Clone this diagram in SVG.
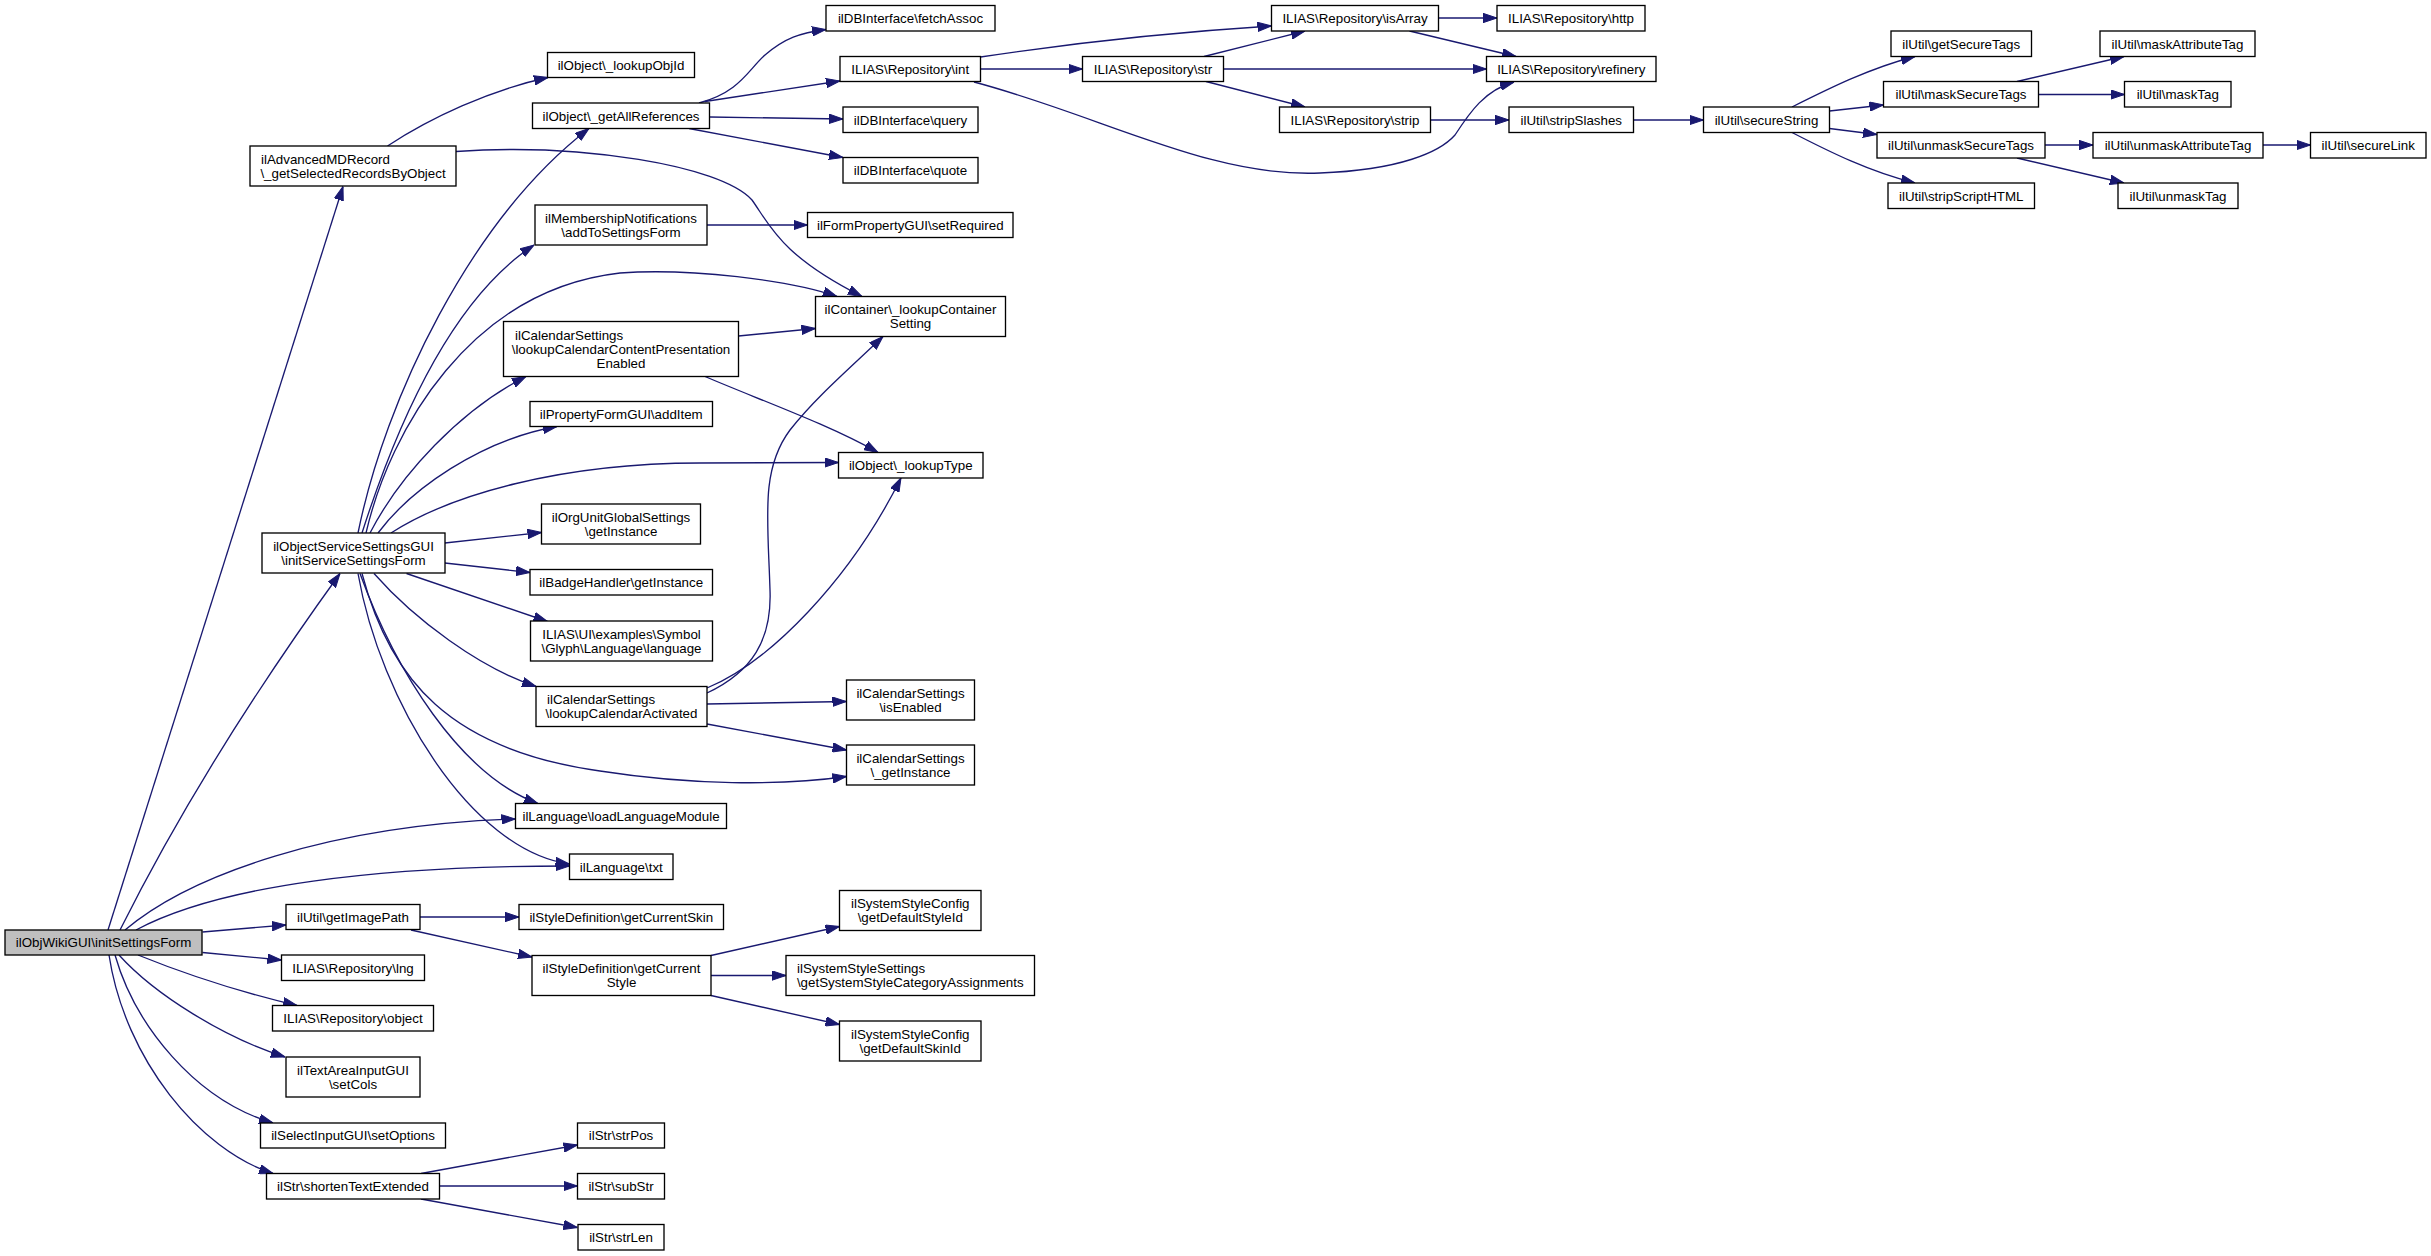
<svg xmlns="http://www.w3.org/2000/svg" width="2431" height="1256" viewBox="0 0 2431 1256">
<style>
.node rect{fill:#ffffff;stroke:#000000;stroke-width:1.33}
.node.root rect{fill:#bfbfbf}
.node text{font-family:"Liberation Sans",Arial,Helvetica,sans-serif;font-size:13.33px;fill:#000000;text-anchor:middle}
.node text.l{text-anchor:start}
.edges path{fill:none;stroke:#191970;stroke-width:1.33;marker-end:url(#arr)}
</style>
<defs>
<marker id="arr" viewBox="0 0 14 10" refX="14" refY="5" markerWidth="14" markerHeight="10" markerUnits="userSpaceOnUse" orient="auto">
<path d="M0,0.3 L14,5 L0,9.7 z" fill="#191970" stroke="#191970" stroke-width="1"/>
</marker>
</defs>
<rect x="0" y="0" width="2431" height="1256" fill="#ffffff"/>
<g class="edges" id="connectors">
<path d="M108,930 L343,186.5"/>
<path d="M120,930 Q205,760 340,573.5"/>
<path d="M125,930 C190,875 330,825 515.5,819"/>
<path d="M136,930 C220,885 380,866 569.5,866"/>
<path d="M202.5,932 L286,925"/>
<path d="M202.5,952.5 L281.5,960"/>
<path d="M138,955 C180,972 240,992 297,1005.5"/>
<path d="M119,955 C155,995 225,1038 285,1057"/>
<path d="M115,955 C135,1025 195,1100 273,1123"/>
<path d="M109,955 C125,1060 200,1150 273,1173.5"/>
<path d="M420,917 L519,917"/>
<path d="M411,930 L532,957"/>
<path d="M711,955.5 L839.5,926.5"/>
<path d="M711,975.5 L786,975.5"/>
<path d="M711,995.5 L839.5,1024.5"/>
<path d="M421,1173.5 L577.5,1145"/>
<path d="M439.5,1186 L577.5,1186"/>
<path d="M421,1199 L577.5,1227.5"/>
<path d="M387.5,146 C430,118 490,90 548,77.5"/>
<path d="M456,151.5 C580,143 720,165 752,200 C770,225 780,255 862,296.5"/>
<path d="M358,533 C385,400 470,220 589,128.5"/>
<path d="M362,533 C395,430 450,300 534,245"/>
<path d="M366,533 C390,430 470,290 620,273 C690,268 790,280 837,296.5"/>
<path d="M370,533 C400,475 460,410 526,376.5"/>
<path d="M378,533 C410,490 480,440 557,426.5"/>
<path d="M391,533 C450,495 560,463 700,463 C760,462.5 800,462.5 838.5,462.5"/>
<path d="M444.8,543 L541.5,532.5"/>
<path d="M444.8,563 L530,572.5"/>
<path d="M406.5,573.5 L547.5,621.5"/>
<path d="M374,573.5 C415,620 480,668 536,686.5"/>
<path d="M362,573.5 C390,680 450,750 600,771 C690,785 780,786 846.5,776.5"/>
<path d="M360,573.5 C395,670 460,775 538,803.5"/>
<path d="M358,573.5 C380,700 470,850 569.5,864"/>
<path d="M738.5,336 L815.5,328.5"/>
<path d="M705,376.5 C760,400 830,425 878,452.5"/>
<path d="M707,225 L807.5,225"/>
<path d="M699,103 C740,92 748,70 765,55 C785,38 800,33 826,29.5"/>
<path d="M705,101.5 L840,81"/>
<path d="M710,117 L843,119"/>
<path d="M689,128.5 L843,157.5"/>
<path d="M980.5,69 L1082.5,69"/>
<path d="M980.5,57 C1060,45 1160,33 1271.5,26"/>
<path d="M974,82 C1100,115 1210,178 1320,173 C1400,170 1440,152 1455,135 C1470,112 1485,90 1514,82"/>
<path d="M1204,56.5 L1305,31"/>
<path d="M1223.5,69 L1486.5,69"/>
<path d="M1206,81.5 L1305,107"/>
<path d="M1438.5,18 L1497,18"/>
<path d="M1409.5,31 L1516,56.5"/>
<path d="M1430.5,120 L1509,120"/>
<path d="M1633.5,120 L1703.5,120"/>
<path d="M1792,107 C1830,88 1870,68 1915,56.5"/>
<path d="M1829.5,111 L1883.5,105"/>
<path d="M1829.5,128.5 L1877,134.5"/>
<path d="M1792,132.5 C1830,152 1870,172 1915,183"/>
<path d="M2017,81.5 L2124,56.5"/>
<path d="M2038.5,94.5 L2124.5,94.5"/>
<path d="M2045,145 L2093,145"/>
<path d="M2017,158 L2124,183"/>
<path d="M2263,145 L2310.5,145"/>
<path d="M707,693 C752,672 772,640 770,590 C768,520 760,470 790,430 C815,398 850,368 883,336.5"/>
<path d="M707,688 C770,662 850,580 901,478"/>
<path d="M707,704 L846.5,701.5"/>
<path d="M707,724 L846.5,750"/>
</g>
<g class="node root" id="n_root"><rect x="5" y="930" width="197" height="25"/><text x="103.5" y="947.2">ilObjWikiGUI\initSettingsForm</text></g>
<g class="node" id="n_advmd"><rect x="250" y="146" width="206" height="40"/><text class="l" x="261" y="163.7">ilAdvancedMDRecord</text><text x="353" y="177.7">\_getSelectedRecordsByObject</text></g>
<g class="node" id="n_objsvc"><rect x="262" y="533" width="183" height="40"/><text x="353.5" y="550.7">ilObjectServiceSettingsGUI</text><text x="353.5" y="564.7">\initServiceSettingsForm</text></g>
<g class="node" id="n_getImagePath"><rect x="286" y="904.5" width="134" height="25"/><text x="353" y="921.7">ilUtil\getImagePath</text></g>
<g class="node" id="n_lng"><rect x="281.5" y="955" width="143" height="25.5"/><text x="353" y="972.5">ILIAS\Repository\lng</text></g>
<g class="node" id="n_object"><rect x="272.5" y="1005.5" width="161" height="25.5"/><text x="353" y="1023">ILIAS\Repository\object</text></g>
<g class="node" id="n_setCols"><rect x="286" y="1057" width="134" height="40"/><text x="353" y="1074.7">ilTextAreaInputGUI</text><text x="353" y="1088.7">\setCols</text></g>
<g class="node" id="n_setOptions"><rect x="260.5" y="1123" width="185" height="25"/><text x="353" y="1140.2">ilSelectInputGUI\setOptions</text></g>
<g class="node" id="n_shortenText"><rect x="266.5" y="1173.5" width="173" height="25.5"/><text x="353" y="1191">ilStr\shortenTextExtended</text></g>
<g class="node" id="n_lookupObjId"><rect x="547.5" y="52.5" width="147" height="25"/><text x="621" y="69.7">ilObject\_lookupObjId</text></g>
<g class="node" id="n_getAllRefs"><rect x="532.5" y="103" width="177" height="25.5"/><text x="621" y="120.5">ilObject\_getAllReferences</text></g>
<g class="node" id="n_membership"><rect x="535" y="205" width="172" height="40"/><text x="621" y="222.7">ilMembershipNotifications</text><text x="621" y="236.7">\addToSettingsForm</text></g>
<g class="node" id="n_calContent"><rect x="503.5" y="321.5" width="235" height="55"/><text class="l" x="515" y="339.7">ilCalendarSettings</text><text x="621" y="353.7">\lookupCalendarContentPresentation</text><text x="621" y="367.7">Enabled</text></g>
<g class="node" id="n_addItem"><rect x="530" y="401.5" width="182.5" height="25"/><text x="621.25" y="418.7">ilPropertyFormGUI\addItem</text></g>
<g class="node" id="n_orgUnit"><rect x="541.5" y="504" width="159" height="40"/><text x="621" y="521.7">ilOrgUnitGlobalSettings</text><text x="621" y="535.7">\getInstance</text></g>
<g class="node" id="n_badge"><rect x="530" y="569.5" width="182.5" height="25.5"/><text x="621.25" y="587">ilBadgeHandler\getInstance</text></g>
<g class="node" id="n_uiExamples"><rect x="530.5" y="621" width="182" height="40"/><text x="621.5" y="638.7">ILIAS\UI\examples\Symbol</text><text x="621.5" y="652.7">\Glyph\Language\language</text></g>
<g class="node" id="n_calActivated"><rect x="536" y="686.5" width="171" height="40"/><text class="l" x="547" y="704.2">ilCalendarSettings</text><text x="621.5" y="718.2">\lookupCalendarActivated</text></g>
<g class="node" id="n_loadLang"><rect x="515.5" y="803.5" width="211" height="25"/><text x="621" y="820.7">ilLanguage\loadLanguageModule</text></g>
<g class="node" id="n_txt"><rect x="569.5" y="854" width="103.5" height="25.5"/><text x="621.25" y="871.5">ilLanguage\txt</text></g>
<g class="node" id="n_getCurrentSkin"><rect x="519" y="904.5" width="204.5" height="25"/><text x="621.25" y="921.7">ilStyleDefinition\getCurrentSkin</text></g>
<g class="node" id="n_getCurrentStyle"><rect x="532" y="955.5" width="179" height="40"/><text x="621.5" y="973.2">ilStyleDefinition\getCurrent</text><text x="621.5" y="987.2">Style</text></g>
<g class="node" id="n_strPos"><rect x="577.5" y="1123" width="87" height="25"/><text x="621" y="1140.2">ilStr\strPos</text></g>
<g class="node" id="n_subStr"><rect x="577.5" y="1173.5" width="87" height="25.5"/><text x="621" y="1191">ilStr\subStr</text></g>
<g class="node" id="n_strLen"><rect x="578" y="1224.5" width="86" height="25.5"/><text x="621" y="1242">ilStr\strLen</text></g>
<g class="node" id="n_fetchAssoc"><rect x="826" y="5.5" width="169" height="25.5"/><text x="910.5" y="23">ilDBInterface\fetchAssoc</text></g>
<g class="node" id="n_int"><rect x="840" y="56.5" width="140.5" height="25"/><text x="910.25" y="73.7">ILIAS\Repository\int</text></g>
<g class="node" id="n_query"><rect x="843" y="107" width="135" height="25.5"/><text x="910.5" y="124.5">ilDBInterface\query</text></g>
<g class="node" id="n_quote"><rect x="843" y="157.5" width="135" height="25.5"/><text x="910.5" y="175">ilDBInterface\quote</text></g>
<g class="node" id="n_setRequired"><rect x="807.5" y="212.5" width="205.5" height="25"/><text x="910.25" y="229.7">ilFormPropertyGUI\setRequired</text></g>
<g class="node" id="n_container"><rect x="815.5" y="296.5" width="190" height="40"/><text x="910.5" y="314.2">ilContainer\_lookupContainer</text><text x="910.5" y="328.2">Setting</text></g>
<g class="node" id="n_lookupType"><rect x="838.5" y="452.5" width="144.5" height="25.5"/><text x="910.75" y="470">ilObject\_lookupType</text></g>
<g class="node" id="n_isEnabled"><rect x="846.5" y="680" width="128" height="40"/><text x="910.5" y="697.7">ilCalendarSettings</text><text x="910.5" y="711.7">\isEnabled</text></g>
<g class="node" id="n_calGetInstance"><rect x="846.5" y="745" width="128" height="40"/><text x="910.5" y="762.7">ilCalendarSettings</text><text x="910.5" y="776.7">\_getInstance</text></g>
<g class="node" id="n_defStyleId"><rect x="839.5" y="890.5" width="141.5" height="40"/><text x="910.25" y="908.2">ilSystemStyleConfig</text><text x="910.25" y="922.2">\getDefaultStyleId</text></g>
<g class="node" id="n_catAssign"><rect x="786" y="955.5" width="248.5" height="40"/><text class="l" x="797" y="973.2">ilSystemStyleSettings</text><text x="910.25" y="987.2">\getSystemStyleCategoryAssignments</text></g>
<g class="node" id="n_defSkinId"><rect x="839.5" y="1021" width="141.5" height="40"/><text x="910.25" y="1038.7">ilSystemStyleConfig</text><text x="910.25" y="1052.7">\getDefaultSkinId</text></g>
<g class="node" id="n_str"><rect x="1082.5" y="56.5" width="141" height="25"/><text x="1153" y="73.7">ILIAS\Repository\str</text></g>
<g class="node" id="n_isArray"><rect x="1271.5" y="5.5" width="167" height="25.5"/><text x="1355" y="23">ILIAS\Repository\isArray</text></g>
<g class="node" id="n_strip"><rect x="1279.5" y="107" width="151" height="25.5"/><text x="1355" y="124.5">ILIAS\Repository\strip</text></g>
<g class="node" id="n_http"><rect x="1497" y="5.5" width="148" height="25.5"/><text x="1571" y="23">ILIAS\Repository\http</text></g>
<g class="node" id="n_refinery"><rect x="1486.5" y="56.5" width="169.5" height="25"/><text x="1571.25" y="73.7">ILIAS\Repository\refinery</text></g>
<g class="node" id="n_stripSlashes"><rect x="1509" y="107" width="124.5" height="25.5"/><text x="1571.25" y="124.5">ilUtil\stripSlashes</text></g>
<g class="node" id="n_secureString"><rect x="1703.5" y="107" width="126" height="25.5"/><text x="1766.5" y="124.5">ilUtil\secureString</text></g>
<g class="node" id="n_getSecureTags"><rect x="1891" y="31" width="140.5" height="25.5"/><text x="1961.25" y="48.5">ilUtil\getSecureTags</text></g>
<g class="node" id="n_maskSecureTags"><rect x="1883.5" y="81.5" width="155" height="25.5"/><text x="1961" y="99">ilUtil\maskSecureTags</text></g>
<g class="node" id="n_unmaskSecureTags"><rect x="1877" y="132.5" width="168" height="25.5"/><text x="1961" y="150">ilUtil\unmaskSecureTags</text></g>
<g class="node" id="n_stripScriptHTML"><rect x="1888" y="183" width="146.5" height="25.5"/><text x="1961.25" y="200.5">ilUtil\stripScriptHTML</text></g>
<g class="node" id="n_maskAttributeTag"><rect x="2100" y="31" width="155" height="25.5"/><text x="2177.5" y="48.5">ilUtil\maskAttributeTag</text></g>
<g class="node" id="n_maskTag"><rect x="2124.5" y="81.5" width="106.5" height="25.5"/><text x="2177.75" y="99">ilUtil\maskTag</text></g>
<g class="node" id="n_unmaskAttributeTag"><rect x="2093" y="132.5" width="170" height="25.5"/><text x="2178" y="150">ilUtil\unmaskAttributeTag</text></g>
<g class="node" id="n_unmaskTag"><rect x="2118" y="183" width="120" height="25.5"/><text x="2178" y="200.5">ilUtil\unmaskTag</text></g>
<g class="node" id="n_secureLink"><rect x="2310.5" y="132.5" width="115.5" height="25.5"/><text x="2368.25" y="150">ilUtil\secureLink</text></g>
</svg>
